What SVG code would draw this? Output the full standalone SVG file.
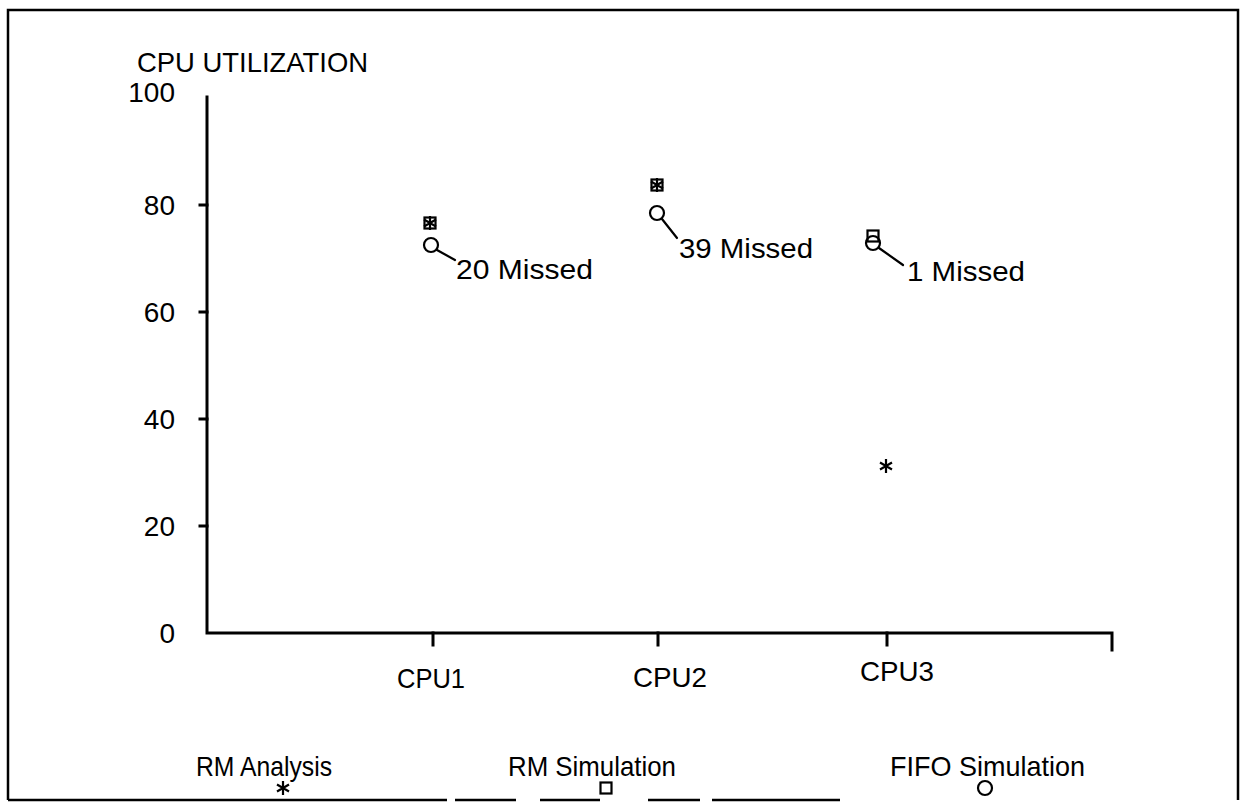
<svg xmlns="http://www.w3.org/2000/svg" xmlns:xlink="http://www.w3.org/1999/xlink" width="1246" height="803" viewBox="0 0 1246 803">
  <style>
    .t { font-family: "Liberation Sans", Arial, Helvetica, sans-serif; font-size: 28px; fill: #000; }
    .ax { stroke: #000; stroke-width: 3; fill: none; stroke-linecap: square; }
    .frame { stroke: #000; stroke-width: 2.5; fill: none; }
    .mk { stroke: #000; stroke-width: 2.2; fill: none; }
    .lead { stroke: #000; stroke-width: 2.2; fill: none; stroke-linecap: round; }
  </style>
  <defs>
    <g id="ast" class="mk"><path d="M0,-7 V7 M-6,-3.5 L6,3.5 M-6,3.5 L6,-3.5"/></g>
    <g id="sq" class="mk"><rect x="-5.5" y="-5.5" width="11" height="11"/></g>
    <g id="ci" class="mk"><circle r="7"/></g>
  </defs>

  <rect width="1246" height="803" fill="#fff"/>

  <!-- outer frame; the lower edge is broken -->
  <g id="frame">
    <path class="frame" d="M8,800 V10 H1238 V800"/>
    <path class="frame" stroke-width="3" d="M8,800 H447 M455,800 H516 M540,800 H600 M648,800 H700 M712,800 H840"/>
  </g>

  <!-- axes -->
  <g id="axes">
    <path class="ax" d="M207,97 V633 H1112 V650"/>
    <path class="ax" d="M200,205 H207 M200,312 H207 M200,419 H207 M200,526 H207"/>
    <path class="ax" d="M433,633 V645 M658,633 V645 M887,633 V645"/>
  </g>

  <!-- axis labels -->
  <g id="labels">
    <text class="t" x="137" y="72" textLength="231" lengthAdjust="spacingAndGlyphs">CPU UTILIZATION</text>
    <text class="t" x="175" y="102" text-anchor="end">100</text>
    <text class="t" x="175" y="215" text-anchor="end">80</text>
    <text class="t" x="175" y="322" text-anchor="end">60</text>
    <text class="t" x="175" y="429" text-anchor="end">40</text>
    <text class="t" x="175" y="536" text-anchor="end">20</text>
    <text class="t" x="175" y="643" text-anchor="end">0</text>
    <text class="t" x="397" y="688" textLength="68" lengthAdjust="spacingAndGlyphs">CPU1</text>
    <text class="t" x="633" y="687" textLength="74" lengthAdjust="spacingAndGlyphs">CPU2</text>
    <text class="t" x="860" y="681" textLength="74" lengthAdjust="spacingAndGlyphs">CPU3</text>
  </g>

  <!-- data points -->
  <g id="cpu1">
    <use xlink:href="#sq" x="430" y="223"/>
    <use xlink:href="#ast" x="430" y="223"/>
    <use xlink:href="#ci" x="431" y="245"/>
  </g>
  <g id="cpu2">
    <use xlink:href="#sq" x="657" y="185"/>
    <use xlink:href="#ast" x="657" y="185"/>
    <use xlink:href="#ci" x="657" y="213"/>
  </g>
  <g id="cpu3">
    <use xlink:href="#sq" x="873" y="236"/>
    <use xlink:href="#ci" x="873" y="243"/>
    <use xlink:href="#ast" x="886" y="466"/>
  </g>

  <!-- leader lines to the missed-deadline notes -->
  <g id="connectors">
    <path class="lead" d="M437,250 L455,260"/>
    <path class="lead" d="M662,219 L677,238"/>
    <path class="lead" d="M879,248 L903,265"/>
  </g>

  <g id="notes">
    <text class="t" x="456" y="279" textLength="137" lengthAdjust="spacingAndGlyphs">20 Missed</text>
    <text class="t" x="679" y="258" textLength="134" lengthAdjust="spacingAndGlyphs">39 Missed</text>
    <text class="t" x="907" y="281" textLength="118" lengthAdjust="spacingAndGlyphs">1 Missed</text>
  </g>

  <!-- legend -->
  <g id="legend">
    <text class="t" x="196" y="776" textLength="136" lengthAdjust="spacingAndGlyphs">RM Analysis</text>
    <use xlink:href="#ast" x="283" y="788"/>
    <text class="t" x="508" y="776" textLength="168" lengthAdjust="spacingAndGlyphs">RM Simulation</text>
    <use xlink:href="#sq" x="606" y="788"/>
    <text class="t" x="890" y="776" textLength="195" lengthAdjust="spacingAndGlyphs">FIFO Simulation</text>
    <use xlink:href="#ci" x="985" y="788"/>
  </g>
</svg>
